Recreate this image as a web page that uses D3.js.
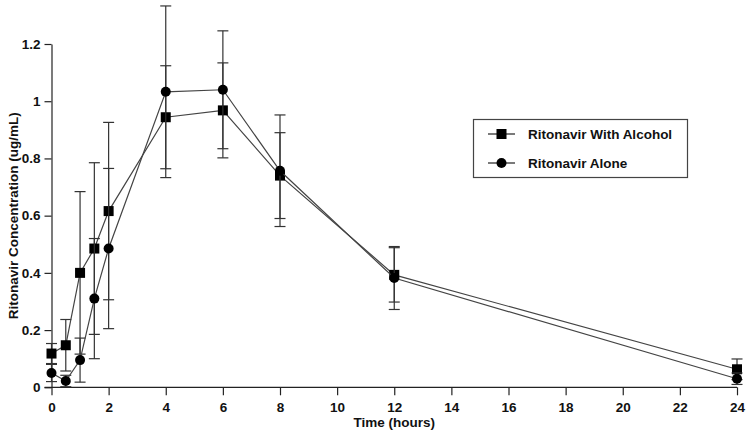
<!DOCTYPE html>
<html><head><meta charset="utf-8">
<script src="https://cdn.jsdelivr.net/npm/d3@7"></script>
<style>body{margin:0;background:#fff}svg{display:block}text{font-family:"Liberation Sans",Arial,sans-serif;font-weight:bold;fill:#111}</style>
</head><body><svg id="c" width="750" height="435"></svg>
<script>
const times = [0, 0.5, 1, 1.5, 2, 4, 6, 8, 12, 24];
const alcoholMean = [0.118, 0.147, 0.40, 0.485, 0.616, 0.944, 0.968, 0.74, 0.393, 0.063];
const alcoholSD   = [0.035, 0.09, 0.284, 0.30, 0.31, 0.18, 0.166, 0.15, 0.095, 0.036];
const aloneMean   = [0.05, 0.022, 0.095, 0.31, 0.485, 1.033, 1.04, 0.757, 0.382, 0.03];
const aloneSD     = [0.03, 0.02, 0.077, 0.21, 0.28, 0.30, 0.206, 0.195, 0.11, 0.02];
const xTicks = [0,2,4,6,8,10,12,14,16,18,20,22,24];
const yTicks = [0,0.2,0.4,0.6,0.8,1,1.2];
const yTickLabels = ["0","0.2","0.4","0.6","0.8","1","1.2"];
const seriesNames = ["Ritonavir With Alcohol","Ritonavir Alone"];

const svg = d3.select("#c");
const x = d3.scaleLinear().domain([0,24]).range([51.5,737]);
const y = d3.scaleLinear().domain([0,1.2]).range([387.3,44]);
const lineCol = "#444";

// axes
const xAxis = svg.append("g").attr("transform",`translate(0,${y(0)})`)
  .call(d3.axisBottom(x).tickValues(xTicks).tickSize(8).tickSizeOuter(0).tickPadding(5));
xAxis.select(".domain").attr("d",`M${x(0)-7},0H${x(24)}`);
const yAxis = svg.append("g").attr("transform",`translate(${x(0)},0)`)
  .call(d3.axisLeft(y).tickValues(yTicks).tickFormat((d,i)=>yTickLabels[i]).tickSize(7).tickSizeOuter(0).tickPadding(4));
svg.selectAll(".tick line, .domain").attr("stroke","#222").attr("stroke-width",1.2);
svg.selectAll(".tick text").style("font-size","13.5px").attr("fill","#111");
xAxis.selectAll(".tick text").attr("dy","0.9em");

svg.append("text").attr("x",x(12)).attr("y",427).attr("text-anchor","middle").style("font-size","13.5px").text("Time (hours)");
svg.append("text").attr("transform",`translate(18,${y(0.6)}) rotate(-90)`).attr("text-anchor","middle").style("font-size","13.5px").text("Ritonavir Concentration (ug/mL)");

const series = [
  {mean: alcoholMean, sd: alcoholSD, shape: "square"},
  {mean: aloneMean, sd: aloneSD, shape: "circle"}
];
const line = d3.line().x(d=>x(d[0])).y(d=>y(d[1]));

series.forEach(s=>{
  const pts = times.map((t,i)=>[t,s.mean[i],s.sd[i]]);
  const g = svg.append("g");
  // error bars
  pts.forEach(p=>{
    const lo = Math.max(0,p[1]-p[2]), hi = p[1]+p[2];
    g.append("line").attr("x1",x(p[0])).attr("x2",x(p[0])).attr("y1",y(lo)).attr("y2",y(hi)).attr("stroke","#333").attr("stroke-width",1.2);
    [lo,hi].forEach(v=>g.append("line").attr("x1",x(p[0])-5.5).attr("x2",x(p[0])+5.5).attr("y1",y(v)).attr("y2",y(v)).attr("stroke","#333").attr("stroke-width",1.2));
  });
  g.append("path").attr("d",line(pts)).attr("fill","none").attr("stroke",lineCol).attr("stroke-width",1.2);
  pts.forEach(p=>{
    if(s.shape==="square") g.append("rect").attr("x",x(p[0])-5).attr("y",y(p[1])-5).attr("width",10).attr("height",10).attr("fill","#000");
    else g.append("circle").attr("cx",x(p[0])).attr("cy",y(p[1])).attr("r",5).attr("fill","#000");
  });
});

// legend
const lg = svg.append("g");
lg.append("rect").attr("x",473.5).attr("y",119.5).attr("width",214).attr("height",58).attr("fill","#fff").attr("stroke","#444").attr("stroke-width",1.2);
seriesNames.forEach((n,i)=>{
  const yy = 134 + i*29;
  lg.append("line").attr("x1",488).attr("x2",515).attr("y1",yy).attr("y2",yy).attr("stroke","#222").attr("stroke-width",1.2);
  if(i===0) lg.append("rect").attr("x",496.5).attr("y",yy-5).attr("width",10).attr("height",10).attr("fill","#000");
  else lg.append("circle").attr("cx",501.5).attr("cy",yy).attr("r",5).attr("fill","#000");
  lg.append("text").attr("x",528).attr("y",yy).attr("dy","0.36em").style("font-size","13.5px").text(n);
});
</script></body></html>
